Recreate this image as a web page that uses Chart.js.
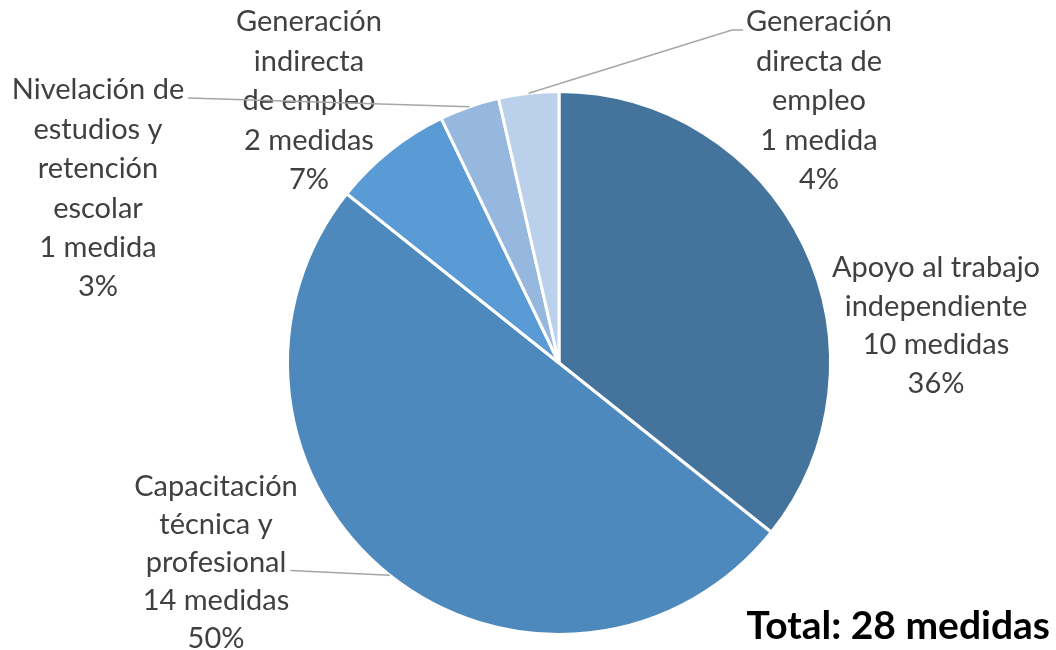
<!DOCTYPE html>
<html>
<head>
<meta charset="utf-8">
<script src="https://cdn.jsdelivr.net/npm/chart.js@4"></script>
<style>
  html, body { margin: 0; padding: 0; background: #fff; }
  #medidasChart { display: block; }
</style>
</head>
<body>
<canvas id="medidasChart" width="1056" height="650"></canvas>
<script>
// Medidas por tipo de programa
const categories = [
    "Apoyo al trabajo independiente",
    "Capacitación técnica y profesional",
    "Generación indirecta de empleo",
    "Nivelación de estudios y retención escolar",
    "Generación directa de empleo",
];
const categoryLines = [
    ["Apoyo al trabajo", "independiente"],
    ["Capacitación", "técnica y", "profesional"],
    ["Generación", "indirecta", "de empleo"],
    ["Nivelación de", "estudios y", "retención", "escolar"],
    ["Generación", "directa de", "empleo"],
];
const medidas = [10, 14, 2, 1, 1];
const percentLabels = ["36%", "50%", "7%", "3%", "4%"];
const sliceColors = ["#44739C", "#4E89BD", "#5B9BD5", "#97B8DE", "#BBD0EA"];

// Label block placement (center x, first line y) and leader style per slice
const labelPlacement = [
    { x: 936, y: 268, gap: 38.5, leader: null },
    { x: 216, y: 487, gap: 37.8, leader: { line: 2, side: "right" } },
    { x: 309, y: 22, gap: 39.5, leader: null },
    { x: 98, y: 90, gap: 39.4, leader: { line: 0, side: "right" } },
    { x: 819, y: 22, gap: 39.5, leader: { line: 0, side: "left", elbow: 11 } },
];
const labelFont = "29px Lato";
const labelColor = "#404040";

const countText = (n) => n + (n === 1 ? " medida" : " medidas");

const pieLabels = {
    id: "pieLabels",
    afterDraw(chart) {
        const ctx = chart.ctx;
        const arcs = chart.getDatasetMeta(0).data;
        ctx.save();
        ctx.font = labelFont;
        ctx.textAlign = "center";
        ctx.textBaseline = "middle";

        arcs.forEach((arc, i) => {
            const place = labelPlacement[i];
            const lines = categoryLines[i].concat([countText(medidas[i]), percentLabels[i]]);

            // leader line from the text to the middle of the slice's outer edge
            if (place.leader) {
                const p = arc.getProps(["x", "y", "startAngle", "endAngle", "outerRadius"], true);
                const mid = (p.startAngle + p.endAngle) / 2;
                const ex = p.x + Math.cos(mid) * p.outerRadius;
                const ey = p.y + Math.sin(mid) * p.outerRadius;
                const w = ctx.measureText(lines[place.leader.line]).width;
                const ly = place.y + place.leader.line * place.gap + 8;
                ctx.strokeStyle = "#A6A6A6";
                ctx.lineWidth = 1.5;
                ctx.beginPath();
                if (place.leader.side === "right") {
                    ctx.moveTo(place.x + w / 2 + 4, ly);
                } else {
                    const sx = place.x - w / 2 - 3;
                    ctx.moveTo(sx, ly);
                    ctx.lineTo(sx - place.leader.elbow, ly);
                }
                ctx.lineTo(ex, ey);
                ctx.stroke();
            }

            ctx.fillStyle = labelColor;
            lines.forEach((t, k) => {
                ctx.fillText(t, place.x, place.y + k * place.gap);
            });
        });

        // total note
        const total = medidas.reduce((a, b) => a + b, 0);
        ctx.font = "bold 39px Lato";
        ctx.textAlign = "right";
        ctx.textBaseline = "alphabetic";
        ctx.fillStyle = "#000";
        ctx.fillText("Total: " + total + " medidas", 1050, 639);
        ctx.restore();
    },
};

new Chart(document.getElementById("medidasChart"), {
    type: "pie",
    data: {
        labels: categories,
        datasets: [
            {
                data: medidas,
                backgroundColor: sliceColors,
                borderColor: "#ffffff",
                borderWidth: 3,
            },
        ],
    },
    options: {
        responsive: false,
        devicePixelRatio: 1,
        animation: false,
        layout: {
            padding: { left: 286, right: 224, top: 90, bottom: 14 },
        },
        plugins: {
            legend: { display: false },
            tooltip: { enabled: false },
        },
    },
    plugins: [pieLabels],
});
</script>
</body>
</html>
